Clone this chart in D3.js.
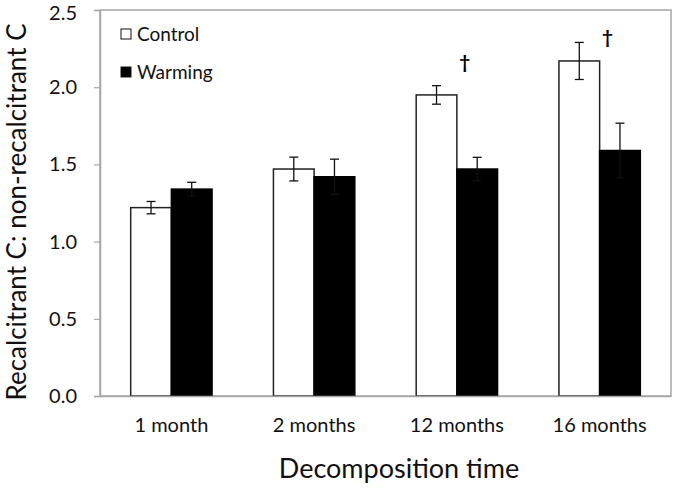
<!DOCTYPE html>
<html>
<head>
<meta charset="utf-8">
<script src="https://cdn.jsdelivr.net/npm/d3@7"></script>
<style>
  html, body { margin: 0; padding: 0; background: #fff; }
  svg { display: block; }
  text { font-family: Lato, "Open Sans", sans-serif; fill: #111; }
</style>
</head>
<body>
<svg id="chart" width="675" height="491"></svg>
<script>
// ---- data ----
const categories = ["1 month", "2 months", "12 months", "16 months"];
const seriesNames = ["Control", "Warming"];
const controlValues = [1.22, 1.47, 1.95, 2.17];
const controlErrors = [0.04, 0.077, 0.06, 0.12];
const warmingValues = [1.34, 1.42, 1.47, 1.59];
const warmingErrors = [0.044, 0.114, 0.076, 0.177];
const daggerCategories = ["12 months", "16 months"];
const daggerLevels = [2.16, 2.32];
const yTicks = [0.0, 0.5, 1.0, 1.5, 2.0, 2.5];

const svg = d3.select("#chart");
const margin = { left: 100, right: 4, top: 10, bottom: 95 };
const W = 675, H = 491;
const plotW = W - margin.left - margin.right;
const plotH = H - margin.top - margin.bottom;

const x = d3.scaleBand().domain(categories).range([0, plotW]).paddingInner(0.43).paddingOuter(0.215);
const sub = d3.scaleBand().domain(seriesNames).range([0, x.bandwidth()]);
const y = d3.scaleLinear().domain([0, 2.5]).range([plotH, 0]);

const g = svg.append("g").attr("transform", `translate(${margin.left},${margin.top})`);

// plot border (top/right)
g.append("rect").attr("x", 0).attr("y", 0).attr("width", plotW).attr("height", plotH)
  .attr("fill", "none").attr("stroke", "#a6a6a6").attr("stroke-width", 1.5);

const data = categories.map((c, i) => ({
  cat: c,
  vals: [
    { s: "Control", v: controlValues[i], e: controlErrors[i] },
    { s: "Warming", v: warmingValues[i], e: warmingErrors[i] }
  ]
}));

const groups = g.selectAll(".grp").data(data).join("g")
  .attr("transform", d => `translate(${x(d.cat)},0)`);

groups.selectAll("rect").data(d => d.vals).join("rect")
  .attr("x", d => sub(d.s))
  .attr("y", d => y(d.v))
  .attr("width", sub.bandwidth())
  .attr("height", d => plotH - y(d.v))
  .attr("fill", d => d.s === "Control" ? "#fff" : "#000")
  .attr("stroke", d => d.s === "Control" ? "#222" : "#000")
  .attr("stroke-width", 1.5);

// error bars
const capW = 4.5;
groups.selectAll(".err").data(d => d.vals).join("g").attr("class", "err")
  .each(function(d) {
    const cx = sub(d.s) + sub.bandwidth() / 2;
    const e = d3.select(this);
    const top = y(d.v + d.e), bot = y(d.v - d.e);
    const lineColor = "#111";
    e.append("line").attr("x1", cx).attr("x2", cx).attr("y1", top).attr("y2", bot)
      .attr("stroke", lineColor).attr("stroke-width", 1.3);
    e.append("line").attr("x1", cx - capW).attr("x2", cx + capW).attr("y1", top).attr("y2", top)
      .attr("stroke", lineColor).attr("stroke-width", 1.3);
    e.append("line").attr("x1", cx - capW).attr("x2", cx + capW).attr("y1", bot).attr("y2", bot)
      .attr("stroke", lineColor).attr("stroke-width", 1.3);
  });

// daggers
g.selectAll(".dagger").data(daggerCategories).join("text")
  .attr("x", d => x(d) + sub.bandwidth() + 8)
  .attr("y", (d, i) => y(daggerLevels[i]))
  .attr("dy", "0.35em")
  .attr("text-anchor", "middle")
  .style("font-size", "19px")
  .style("font-weight", "bold")
  .style("fill", "#000")
  .text("†");

// axes
const yAxis = d3.axisLeft(y).tickValues(yTicks).tickFormat(d3.format(".1f")).tickSize(6).tickPadding(17);
const ya = g.append("g").call(yAxis);
ya.select(".domain").attr("stroke", "#a6a6a6").attr("stroke-width", 1.5);
ya.selectAll(".tick line").attr("stroke", "#a6a6a6").attr("stroke-width", 1.2);
ya.selectAll(".tick text").style("font-size", "20px").attr("fill", "#111").style("font-family", "Lato, sans-serif");
// keep the top label inside the page
ya.selectAll(".tick").filter(d => d === 2.5).select("text").attr("y", 3);

const xAxis = d3.axisBottom(x).tickSize(0).tickPadding(22);
const xa = g.append("g").attr("transform", `translate(0,${plotH})`).call(xAxis);
xa.select(".domain").attr("stroke", "#a6a6a6").attr("stroke-width", 1.5);
xa.selectAll(".tick text").style("font-size", "20px").attr("fill", "#111").style("font-family", "Lato, sans-serif");

// axis titles
svg.append("text")
  .attr("x", 399).attr("y", 478)
  .attr("text-anchor", "middle")
  .style("font-size", "27px")
  .text("Decomposition time");

svg.append("text")
  .attr("transform", `translate(26,${212}) rotate(-90)`)
  .attr("text-anchor", "middle")
  .style("font-size", "26px")
  .text("Recalcitrant C: non-recalcitrant C");

// legend
const legend = svg.append("g").attr("transform", "translate(121,29)");
seriesNames.forEach((s, i) => {
  const lg = legend.append("g").attr("transform", `translate(0,${i * 38})`);
  lg.append("rect").attr("x", 0).attr("y", 0).attr("width", 10).attr("height", 10)
    .attr("fill", s === "Control" ? "#fff" : "#000").attr("stroke", "#111").attr("stroke-width", 1);
  lg.append("text").attr("x", 16).attr("y", 5).attr("dy", "0.35em")
    .style("font-size", "19px").text(s);
});
</script>
</body>
</html>
